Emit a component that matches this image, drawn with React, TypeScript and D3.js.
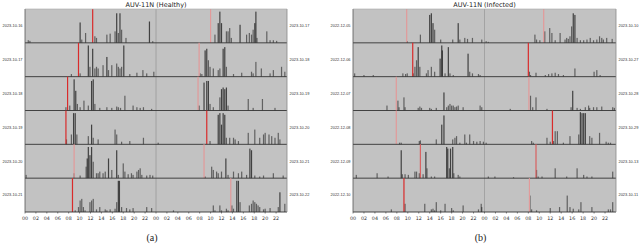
import React from "react";
import * as d3 from "d3";

type Bar = [number, number];
type Red = [number, string];

const hourTicks = ["00","02","04","06","08","10","12","14","16","18","20","22","00","02","04","06","08","10","12","14","16","18","20","22"];

const healthyTitle = "AUV-11N (Healthy)";
const infectedTitle = "AUV-11N (Infected)";

const healthyLeftDates = ["2023-10-16","2023-10-17","2023-10-18","2023-10-19","2023-10-20","2023-10-21"];
const healthyRightDates = ["2023-10-17","2023-10-18","2023-10-19","2023-10-20","2023-10-21","2023-10-22"];
const infectedLeftDates = ["2022-12-05","2022-12-06","2022-12-07","2022-12-08","2022-12-09","2022-12-10"];
const infectedRightDates = ["2023-10-10","2023-10-27","2023-10-28","2023-10-29","2023-10-13","2023-10-11"];

// red markers: [hour (0-48), kind]
const healthyRed: Red[][] = [
  [[12.4, "dark"], [34.0, "light"]],
  [[9.8, "dark"], [31.9, "light"]],
  [[7.8, "dark"], [31.7, "light"]],
  [[7.5, "dark"], [33.3, "dark"]],
  [[9.0, "light"], [32.8, "light"]],
  [[8.7, "dark"], [37.7, "light"]],
];
const infectedRed: Red[][] = [
  [[9.8, "light"], [34.8, "light"]],
  [[10.9, "dark"], [32.0, "dark"]],
  [[7.9, "light"], [32.1, "light"]],
  [[7.9, "light"], [36.4, "dark"]],
  [[12.3, "mid"], [33.4, "mid"]],
  [[9.3, "dark"], [32.2, "light"]],
];

const healthyRow1: Bar[] = [[0.6,0.08],[0.9,0.06],[10.1,0.62],[10.4,0.1],[11.1,0.3],[12.8,0.2],[13.1,0.15],[15.0,0.25],[15.6,0.28],[16.5,0.35],[16.8,0.9],[17.1,0.3],[17.4,0.9],[17.7,0.4],[18.5,0.15],[22.8,0.65],[23.4,0.05],[34.8,0.25],[35.4,0.6],[35.7,0.95],[36.0,0.6],[36.9,0.35],[37.2,0.35],[37.5,0.45],[37.8,0.15],[39.4,0.55],[40.6,0.25],[41.1,0.3],[41.5,0.25],[41.8,0.4],[42.1,0.6],[42.3,0.95],[42.5,0.15],[44.3,0.35],[44.9,0.08],[45.5,0.08],[46.1,0.06]];
const healthyRow2: Bar[] = [[8.5,0.08],[10.1,0.1],[11.6,0.95],[11.9,0.3],[12.4,0.85],[12.8,0.25],[13.1,0.3],[13.4,0.25],[14.3,0.35],[15.0,0.6],[15.3,0.2],[15.9,0.35],[16.8,0.4],[17.1,0.3],[17.4,0.25],[17.7,0.3],[18.1,0.95],[19.2,0.08],[20.5,0.12],[21.6,0.2],[22.3,0.1],[23.6,0.15],[32.1,0.1],[32.4,0.08],[33.0,0.8],[33.3,0.85],[33.6,0.5],[33.9,0.3],[34.5,0.25],[35.4,0.2],[35.7,0.25],[36.3,0.85],[36.6,0.9],[36.9,0.3],[38.2,0.08],[39.7,0.12],[41.5,0.15],[41.8,0.1],[42.3,0.45],[43.3,0.25],[44.9,0.1],[45.5,0.2],[47.0,0.3],[47.6,0.15]];
const healthyRow3: Bar[] = [[7.5,0.1],[8.2,0.15],[9.0,0.95],[9.3,0.6],[9.6,0.2],[10.1,0.1],[10.8,0.3],[11.6,0.15],[12.2,0.9],[12.5,0.95],[12.8,0.2],[13.7,0.08],[15.0,0.1],[15.9,0.08],[16.8,0.12],[17.1,0.1],[17.5,0.08],[18.3,0.45],[19.8,0.15],[20.5,0.1],[21.1,0.08],[21.7,0.1],[23.2,0.05],[31.9,0.15],[32.8,0.85],[33.3,0.9],[33.6,0.9],[33.9,0.2],[34.5,0.1],[35.7,0.4],[36.0,0.65],[36.3,0.7],[36.6,0.65],[36.9,0.7],[37.2,0.15],[40.9,0.35],[41.8,0.08],[43.5,0.35],[45.8,0.08]];
const healthyRow4: Bar[] = [[7.6,0.15],[8.5,0.3],[8.9,0.95],[9.2,0.95],[9.5,0.3],[11.6,0.25],[12.2,0.6],[12.5,0.2],[13.4,0.15],[16.5,0.45],[16.8,0.3],[17.7,0.08],[19.2,0.1],[21.7,0.2],[24.4,0.05],[33.9,0.1],[35.4,0.9],[35.7,0.95],[36.0,0.6],[36.3,0.95],[36.6,0.9],[36.9,0.2],[37.5,0.2],[38.2,0.2],[38.5,0.15],[39.1,0.1],[40.9,0.35],[42.1,0.45],[43.0,0.2],[43.7,0.3],[44.0,0.35],[44.7,0.3],[45.2,0.25],[45.8,0.2],[46.4,0.35],[46.7,0.15]];
const healthyRow5: Bar[] = [[0.2,0.1],[9.0,0.15],[10.1,0.08],[11.2,0.35],[11.4,0.6],[11.6,0.95],[11.9,0.7],[12.2,0.95],[12.5,0.5],[13.1,0.15],[13.4,0.15],[13.7,0.2],[14.3,0.15],[14.7,0.2],[15.3,0.6],[15.9,0.25],[16.8,0.85],[17.1,0.1],[18.0,0.45],[18.3,0.2],[18.9,0.12],[19.5,0.15],[19.8,0.1],[20.5,0.2],[20.8,0.25],[21.1,0.3],[21.4,0.1],[22.3,0.08],[22.9,0.1],[23.4,0.08],[33.0,0.05],[34.2,0.35],[34.5,0.25],[35.1,0.2],[35.4,0.15],[36.0,0.2],[36.8,0.6],[37.2,0.1],[38.2,0.2],[39.1,0.15],[39.7,0.2],[40.6,0.1],[41.2,0.9],[41.5,0.85],[42.1,0.08],[43.0,0.05],[43.7,0.08],[45.5,0.15],[47.3,0.08]];
const healthyRow6: Bar[] = [[9.2,0.05],[9.8,0.15],[10.1,0.35],[10.4,0.4],[10.7,0.15],[11.0,0.05],[11.9,0.3],[12.2,0.35],[12.5,0.4],[13.1,0.08],[13.7,0.15],[14.7,0.08],[15.0,0.05],[15.6,0.08],[16.5,0.1],[16.8,0.3],[17.1,0.95],[17.3,0.95],[17.7,0.15],[18.6,0.12],[19.2,0.08],[19.8,0.12],[22.3,0.15],[23.2,0.12],[27.2,0.05],[34.5,0.2],[34.8,0.05],[35.7,0.2],[36.0,0.05],[36.9,0.1],[37.2,0.05],[37.9,0.2],[38.2,0.1],[38.8,0.95],[39.1,0.95],[39.4,0.3],[41.1,0.2],[41.5,0.25],[41.8,0.35],[42.1,0.3],[42.4,0.25],[42.7,0.2],[43.0,0.15],[43.7,0.08],[44.0,0.1],[44.9,0.12],[46.4,0.15],[46.7,0.6],[47.6,0.25]];

const infectedRow1: Bar[] = [[9.9,0.05],[12.3,0.25],[14.0,0.85],[14.3,0.9],[14.6,0.6],[14.9,0.4],[16.0,0.1],[18.2,0.1],[19.2,0.6],[19.5,0.1],[20.4,0.15],[20.9,0.12],[21.8,0.15],[23.5,0.1],[24.3,0.05],[24.7,0.03],[33.2,0.25],[33.5,0.1],[34.1,0.08],[35.0,0.35],[35.9,0.45],[36.3,0.3],[36.9,0.08],[37.8,0.3],[38.7,0.1],[39.0,0.15],[39.3,0.12],[39.6,0.2],[39.9,0.5],[40.2,0.9],[40.5,0.85],[40.9,0.15],[41.5,0.08],[42.1,0.08],[42.7,0.1],[43.3,0.15],[43.9,0.08],[44.5,0.1],[45.0,0.2],[45.4,0.15],[45.7,0.1],[46.3,0.15],[47.3,0.12]];
const infectedRow2: Bar[] = [[0.3,0.1],[2.0,0.05],[3.7,0.05],[9.1,0.1],[9.6,0.08],[9.9,0.1],[11.0,0.1],[11.3,0.3],[11.6,0.5],[11.9,0.9],[12.2,0.3],[13.4,0.1],[13.7,0.2],[14.3,0.3],[14.9,0.15],[15.9,0.55],[16.2,0.95],[16.3,0.8],[16.8,0.1],[17.4,0.9],[17.7,0.1],[18.3,0.05],[21.0,0.7],[21.3,0.15],[21.8,0.1],[22.9,0.08],[23.2,0.05],[32.2,0.15],[32.4,0.05],[33.4,0.12],[35.1,0.05],[35.7,0.08],[36.3,0.1],[36.9,0.12],[37.5,0.08],[38.4,0.05],[40.5,0.25],[44.0,0.15],[44.5,0.2],[45.1,0.05]];
const infectedRow3: Bar[] = [[6.2,0.15],[8.2,0.3],[8.4,0.1],[9.3,0.4],[9.5,0.1],[11.9,0.08],[12.2,0.12],[12.5,0.08],[14.0,0.08],[14.3,0.05],[15.2,0.08],[16.6,0.55],[17.1,0.1],[17.4,0.15],[17.7,0.2],[18.0,0.15],[18.3,0.15],[18.6,0.1],[18.9,0.12],[19.2,0.15],[20.1,0.1],[23.2,0.15],[23.5,0.1],[28.7,0.05],[32.4,0.45],[32.8,0.1],[33.4,0.4],[35.4,0.05],[39.8,0.1],[40.1,0.6],[40.9,0.08],[41.5,0.05],[42.4,0.1],[43.0,0.15],[43.2,0.08],[43.9,0.1],[44.5,0.1],[45.4,0.12],[47.4,0.1],[47.7,0.08]];
const infectedRow4: Bar[] = [[8.5,0.05],[8.8,0.05],[12.1,0.1],[12.3,0.12],[15.2,0.15],[16.2,0.6],[16.6,0.88],[18.2,0.15],[18.6,0.2],[18.9,0.25],[19.5,0.05],[20.4,0.3],[20.7,0.05],[21.3,0.3],[22.0,0.1],[22.6,0.08],[23.2,0.1],[23.8,0.08],[24.3,0.05],[32.6,0.1],[32.9,0.05],[35.4,0.2],[36.0,0.08],[36.6,0.1],[36.9,0.4],[37.3,0.4],[38.4,0.05],[39.6,0.25],[41.2,0.3],[41.5,0.98],[41.8,0.95],[42.1,0.95],[42.4,0.95],[43.2,0.25],[43.6,0.2],[45.0,0.35],[46.2,0.08],[46.6,0.05],[47.0,0.05]];
const infectedRow5: Bar[] = [[0.6,0.1],[4.4,0.15],[6.4,0.05],[8.8,0.85],[9.0,0.12],[9.5,0.12],[10.1,0.1],[11.3,0.2],[11.6,0.2],[12.1,0.15],[12.8,0.12],[13.3,0.8],[13.5,0.3],[14.3,0.05],[14.9,0.05],[17.1,0.95],[17.3,0.9],[17.6,0.3],[17.8,0.9],[18.2,0.95],[18.4,0.15],[19.2,0.1],[19.5,0.05],[24.7,0.05],[25.9,0.05],[29.3,0.03],[33.5,0.25],[33.8,0.05],[34.5,0.05],[36.9,0.3],[39.0,0.05],[40.9,0.3],[42.1,0.1],[42.7,0.05],[43.6,0.05],[47.4,0.2]];
const infectedRow6: Bar[] = [[7.0,0.08],[9.5,0.25],[13.1,0.25],[14.3,0.08],[14.6,0.1],[14.9,0.05],[15.2,0.3],[16.0,0.05],[16.8,0.25],[18.0,0.12],[18.3,0.05],[20.1,0.2],[22.9,0.08],[23.4,0.25],[23.5,0.15],[32.3,0.5],[32.6,0.08],[33.5,0.05],[36.0,0.12],[37.7,0.15],[39.1,0.5],[39.6,0.15],[40.2,0.1],[41.2,0.08],[41.6,0.3],[43.6,0.15],[46.6,0.08],[47.0,0.08],[47.4,0.3]];

const healthyRows = [healthyRow1, healthyRow2, healthyRow3, healthyRow4, healthyRow5, healthyRow6];
const infectedRows = [infectedRow1, infectedRow2, infectedRow3, infectedRow4, infectedRow5, infectedRow6];

const redColor: Record<string, string> = { dark: "#d92b2b", mid: "#d86060", light: "#e29a9a" };

const TOP = 9;
const BOTTOM = 212;

function Panel(props: {
  x0: number; x1: number; title: string; caption: string;
  rows: Bar[][]; reds: Red[][]; leftDates: string[]; rightDates: string[];
}) {
  const { x0, x1, title, caption, rows, reds, leftDates, rightDates } = props;
  const x = d3.scaleLinear().domain([0, 48]).range([x0, x1]);
  const band = d3.scaleBand<number>().domain(d3.range(rows.length)).range([TOP, BOTTOM]);
  const rh = band.bandwidth();
  const tickHours = d3.range(0, 48, 2);
  return (
    <g>
      <text x={(x0 + x1) / 2} y={6.5} textAnchor="middle" fontSize={6.5} fontFamily="DejaVu Sans" fill="#222">{title}</text>
      <rect x={x0} y={TOP} width={x1 - x0} height={BOTTOM - TOP} fill="#c2c2c2" />
      <line x1={x(24)} x2={x(24)} y1={TOP} y2={BOTTOM} stroke="#9a9a9a" strokeWidth={0.8} />
      {rows.map((bars, i) => {
        const yTop = band(i) as number;
        const y = d3.scaleLinear().domain([0, 1]).range([yTop + rh, yTop + 1]);
        return (
          <g key={i}>
            {bars.map(([h, v], j) => (
              <rect key={j} x={x(h) - 0.6} y={y(v)} width={1.2} height={y(0) - y(v)} fill="#202020" opacity={v > 0.5 ? 0.8 : 0.6} />
            ))}
            {reds[i].map(([h, k], j) => (
              <line key={"r" + j} x1={x(h)} x2={x(h)} y1={yTop} y2={yTop + rh} stroke={redColor[k]} strokeWidth={1.2} />
            ))}
            <line x1={x0} x2={x1} y1={yTop + rh} y2={yTop + rh} stroke="#333" strokeWidth={0.9} />
            <text x={x0 - 2.5} y={yTop + rh / 2 + 1.4} textAnchor="end" fontSize={3.9} fontFamily="Liberation Sans" fill="#333">{leftDates[i]}</text>
            <text x={x1 + 2.5} y={yTop + rh / 2 + 1.4} textAnchor="start" fontSize={3.9} fontFamily="Liberation Sans" fill="#333">{rightDates[i]}</text>
          </g>
        );
      })}
      <line x1={x0} x2={x0} y1={TOP} y2={BOTTOM} stroke="#555" strokeWidth={0.8} />
      <line x1={x1} x2={x1} y1={TOP} y2={BOTTOM} stroke="#888" strokeWidth={0.8} />
      <line x1={x0} x2={x1} y1={TOP} y2={TOP} stroke="#aaa" strokeWidth={0.6} />
      {tickHours.map((h, i) => (
        <g key={"t" + i}>
          <line x1={x(h)} x2={x(h)} y1={BOTTOM} y2={BOTTOM + 1.5} stroke="#333" strokeWidth={0.6} />
          <text x={x(h)} y={BOTTOM + 8} textAnchor="middle" fontSize={4.8} fontFamily="DejaVu Sans" fill="#333">{hourTicks[i]}</text>
        </g>
      ))}
      <text x={(x0 + x1) / 2 - 4} y={241} textAnchor="middle" fontSize={10} fontFamily="Liberation Serif" fill="#222">{caption}</text>
    </g>
  );
}

export default function App() {
  return (
    <svg width={640} height={245} style={{ position: "absolute", left: 0, top: 0, background: "#fff" }}>
      <Panel x0={25} x1={287} title={healthyTitle} caption="(a)" rows={healthyRows} reds={healthyRed} leftDates={healthyLeftDates} rightDates={healthyRightDates} />
      <Panel x0={353} x1={616} title={infectedTitle} caption="(b)" rows={infectedRows} reds={infectedRed} leftDates={infectedLeftDates} rightDates={infectedRightDates} />
    </svg>
  );
}
